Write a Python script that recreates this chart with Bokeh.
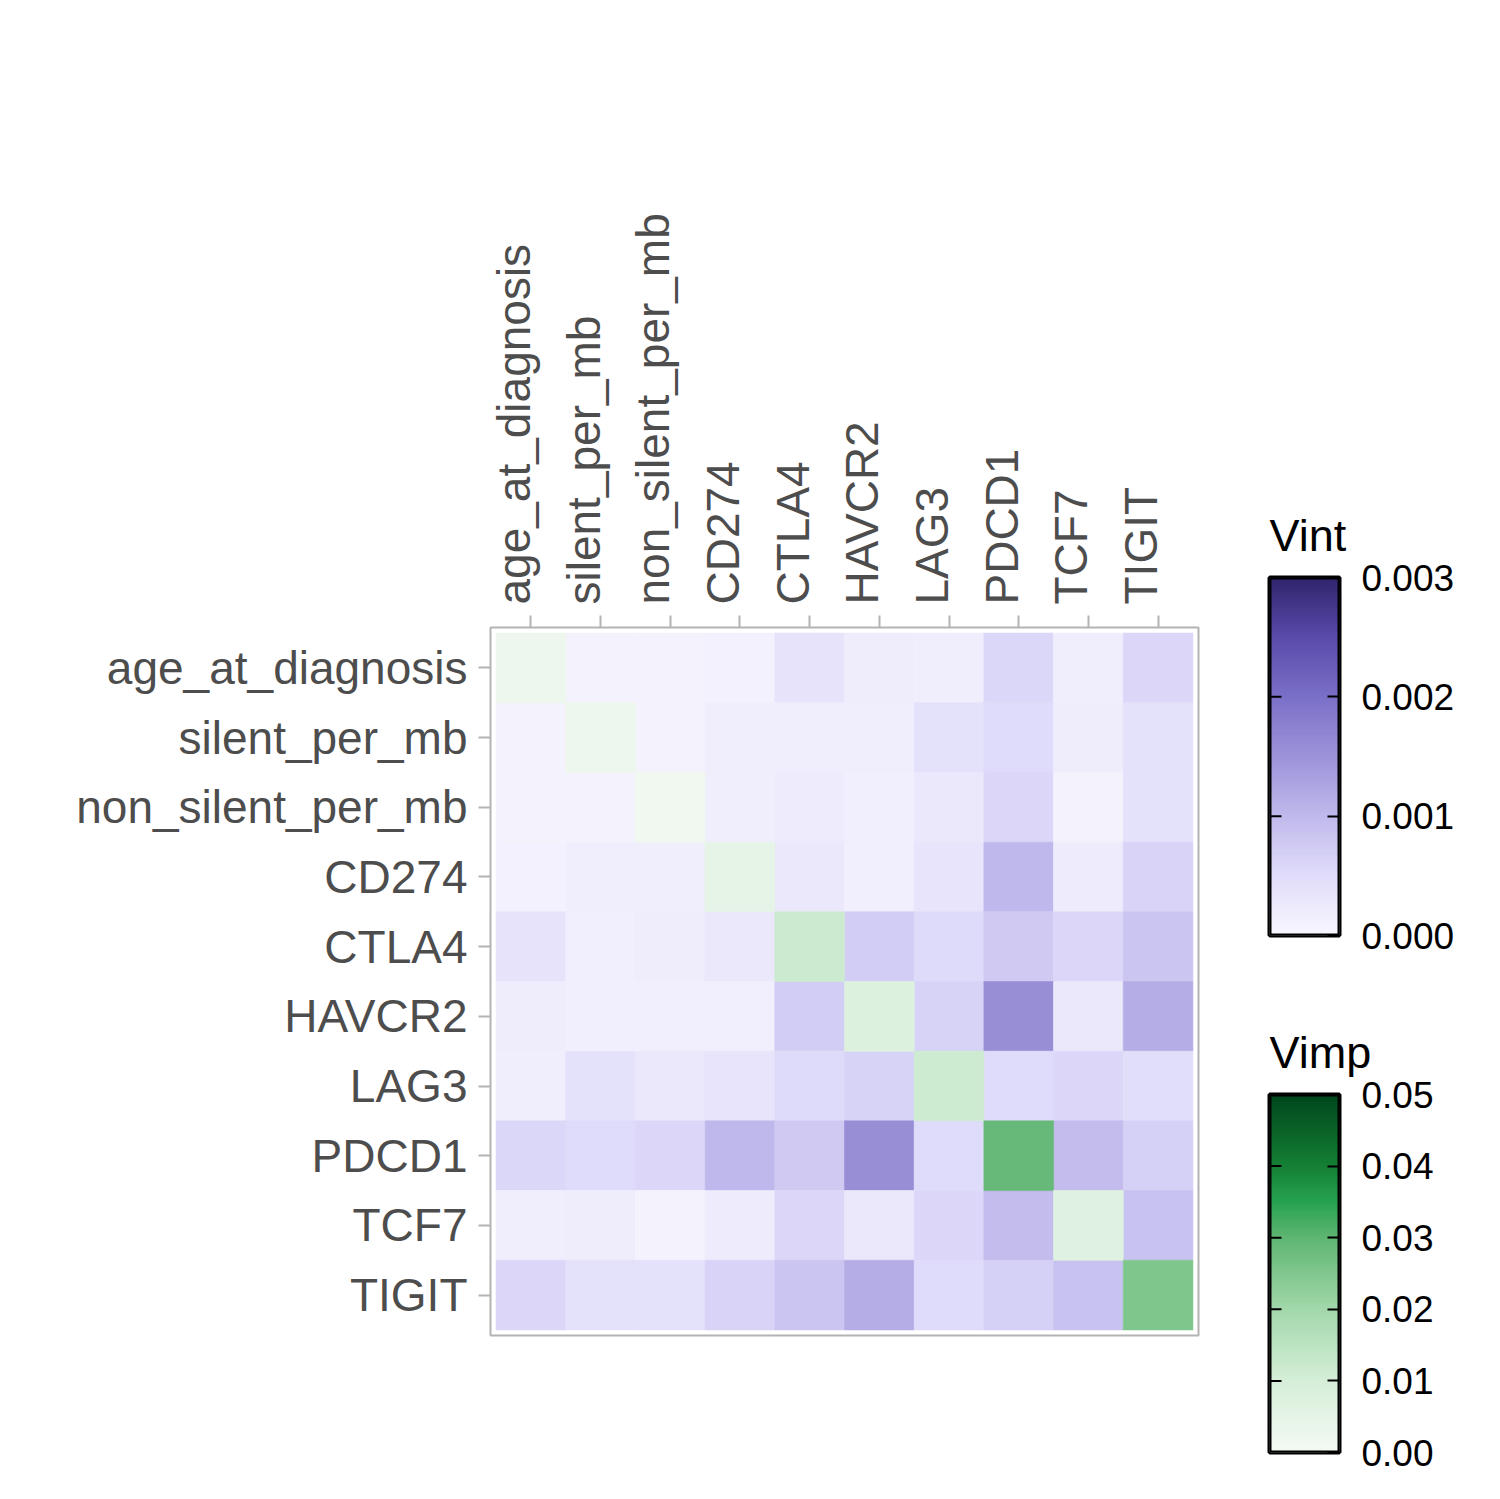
import numpy as np
from bokeh.plotting import figure
from bokeh.models import (ColumnDataSource, LinearColorMapper, FixedTicker,
                          PrintfTickFormatter, Range1d)
from bokeh.transform import linear_cmap
from bokeh.layouts import row, column
from bokeh.embed import file_html
from bokeh.resources import INLINE

# ---------------- data ----------------
variables = ["age_at_diagnosis", "silent_per_mb", "non_silent_per_mb", "CD274",
             "CTLA4", "HAVCR2", "LAG3", "PDCD1", "TCF7", "TIGIT"]

# pairwise interaction importance (Vint), units of 1e-4, diagonal unused (None)
vint_age_at_diagnosis  = [None, 0.83, 0.83, 1.25, 3.75, 1.90, 1.67, 5.78, 1.67, 5.63]
vint_silent_per_mb     = [0.83, None, 0.83, 1.67, 1.67, 1.67, 4.17, 5.16, 1.90, 4.17]
vint_non_silent_per_mb = [0.83, 0.83, None, 1.67, 2.08, 1.46, 2.71, 5.63, 0.83, 4.17]
vint_CD274             = [1.25, 1.67, 1.67, None, 2.71, 1.46, 3.60, 10.1, 2.10, 6.10]
vint_CTLA4             = [3.75, 1.46, 1.90, 2.71, None, 7.20, 5.30, 7.50, 5.63, 8.30]
vint_HAVCR2            = [1.90, 1.46, 1.46, 1.46, 7.20, None, 6.40, 15.8, 2.71, 11.5]
vint_LAG3              = [1.67, 4.17, 2.71, 3.60, 5.30, 6.40, None, 5.16, 5.63, 4.80]
vint_PDCD1             = [5.78, 5.16, 5.63, 10.1, 7.50, 15.8, 5.16, None, 9.50, 6.70]
vint_TCF7              = [1.67, 1.90, 0.83, 2.30, 5.63, 2.71, 5.63, 9.50, None, 8.75]
vint_TIGIT             = [5.63, 4.17, 4.17, 6.10, 8.30, 11.5, 5.16, 6.70, 8.75, None]

# single-variable importance (Vimp), diagonal
vimp = [0.0022, 0.0022, 0.0016, 0.0047, 0.0120, 0.0075, 0.0116, 0.0290, 0.0069, 0.0253]

vint_ticks = [0.000, 0.001, 0.002, 0.003]
vimp_ticks = [0.00, 0.01, 0.02, 0.03, 0.04, 0.05]

vint_rows = [vint_age_at_diagnosis, vint_silent_per_mb, vint_non_silent_per_mb,
             vint_CD274, vint_CTLA4, vint_HAVCR2, vint_LAG3, vint_PDCD1,
             vint_TCF7, vint_TIGIT]

# ---------------- palettes ----------------
def ramp(stops, n=256):
    vals = np.array([s[0] for s in stops], float)
    cols = np.array([[int(c[i:i + 2], 16) for i in (1, 3, 5)] for _, c in stops], float)
    out = []
    for tv in np.linspace(vals[0], vals[-1], n):
        rgb = [int(round(np.interp(tv, vals, cols[:, k]))) for k in range(3)]
        out.append("#%02x%02x%02x" % tuple(rgb))
    return out

purples = ramp([(0.0000, "#f8f7fe"), (0.0005, "#e0dcfa"), (0.0010, "#c0b9ec"),
                (0.0015, "#9c93d9"), (0.0020, "#7b70c8"), (0.0025, "#5a4bab"),
                (0.0030, "#30256e")])
greens = ramp([(0.00, "#f5faf4"), (0.01, "#d5eed8"), (0.02, "#a2d8aa"),
               (0.03, "#5fb673"), (0.035, "#27a350"), (0.04, "#158035"),
               (0.05, "#00471d")])

VINT_HIGH = 0.003
VIMP_HIGH = 0.05

# ---------------- sources ----------------
n = len(variables)
xi, yi, vi = [], [], []
for i, r in enumerate(vint_rows):
    for j, v in enumerate(r):
        if v is None:
            continue
        xi.append(j + 0.5)
        yi.append(n - 1 - i + 0.5)
        vi.append(v * 1e-4)
src_int = ColumnDataSource(dict(x=xi, y=yi, v=vi))
src_imp = ColumnDataSource(dict(x=[j + 0.5 for j in range(n)],
                                y=[n - 1 - j + 0.5 for j in range(n)],
                                v=vimp))

FONT = "Liberation Sans"
GREY_TICK = "#b3b3b3"

# ---------------- main heatmap ----------------
p = figure(frame_width=708, frame_height=708,
           min_border_left=490, min_border_top=627, min_border_right=3, min_border_bottom=20,
           x_range=Range1d(-0.08, n + 0.08), y_range=Range1d(-0.08, n + 0.08),
           x_axis_location="above", output_backend="svg", toolbar_location=None)

cm_int = linear_cmap("v", purples, 0, VINT_HIGH)
cm_imp = linear_cmap("v", greens, 0, VIMP_HIGH)
p.rect(x="x", y="y", width=1, height=1, source=src_int,
       fill_color=cm_int, line_color=cm_int, line_width=0.6)
p.rect(x="x", y="y", width=1, height=1, source=src_imp,
       fill_color=cm_imp, line_color=cm_imp, line_width=0.6)

p.grid.visible = False
p.outline_line_color = GREY_TICK
p.outline_line_width = 2
p.background_fill_color = "white"

centers = [k + 0.5 for k in range(n)]
# rotated labels sit with their baseline on the tick: shift label anchors a little left,
# and draw the visible tick marks as minor ticks at the cell centres
label_shift = 0.244
xlabel_pos = [round(c - label_shift, 4) for c in centers]
p.xaxis.ticker = FixedTicker(ticks=xlabel_pos, minor_ticks=centers)
p.xaxis.major_label_overrides = {c: variables[k] for k, c in enumerate(xlabel_pos)}
p.xaxis.major_label_orientation = "vertical"
p.xaxis.major_tick_line_color = None
p.xaxis.minor_tick_line_color = GREY_TICK
p.xaxis.minor_tick_line_width = 2
p.xaxis.minor_tick_out = 12
p.xaxis.minor_tick_in = 0

p.yaxis.ticker = FixedTicker(ticks=centers)
p.yaxis.major_label_overrides = {c: variables[n - 1 - k] for k, c in enumerate(centers)}
p.yaxis.major_tick_line_color = GREY_TICK
p.yaxis.minor_tick_line_color = None

for ax in (p.xaxis, p.yaxis):
    ax.axis_line_color = None
    ax.major_tick_line_width = 2
    ax.major_tick_out = 12
    ax.major_tick_in = 0
    ax.major_label_text_font = FONT
    ax.major_label_text_font_size = "46px"
    ax.major_label_text_color = "#4d4d4d"
    ax.major_label_standoff = 11


# ---------------- colour bars ----------------
BAR_W = 70
TICK_LEN = 12

def colorbar_fig(title, palette, high, ticks, fmt, top, bottom):
    f = figure(frame_width=BAR_W, frame_height=358,
               min_border_left=68, min_border_right=140,
               min_border_top=top, min_border_bottom=bottom,
               x_range=Range1d(0, 1), y_range=Range1d(0, high),
               x_axis_location=None, y_axis_location="right",
               output_backend="svg", toolbar_location=None, title=title)
    mapper = LinearColorMapper(palette=palette, low=0, high=high)
    grad = np.linspace(0, high, 400).reshape(-1, 1)
    f.image(image=[grad], x=0, y=0, dw=1, dh=high, color_mapper=mapper)
    # inner ticks on the left edge of the bar
    inner = ticks[1:-1]
    f.segment(x0=[0] * len(inner), x1=[TICK_LEN / BAR_W] * len(inner),
              y0=inner, y1=inner, line_color="black", line_width=2)
    # inner half of the black frame (outline supplies the outer half)
    f.rect(x=0.5, y=high / 2, width=1, height=high, fill_color=None,
           line_color="black", line_width=4)
    f.grid.visible = False
    f.outline_line_color = "black"
    f.outline_line_width = 4
    f.title.text_font = FONT
    f.title.text_font_size = "45px"
    f.title.text_font_style = "normal"
    f.title.text_color = "black"
    f.title.align = "left"
    f.title.standoff = 33
    f.title.offset = 0

    ax = f.yaxis[0]
    ax.ticker = FixedTicker(ticks=ticks)
    ax.formatter = PrintfTickFormatter(format=fmt)
    ax.axis_line_color = None
    ax.major_tick_line_color = "black"
    ax.major_tick_line_width = 2
    ax.major_tick_in = TICK_LEN
    ax.major_tick_out = 0
    ax.minor_tick_line_color = None
    ax.major_label_text_font = FONT
    ax.major_label_text_color = "black"
    ax.major_label_text_font_size = "37px"
    ax.major_label_standoff = 22
    return f

f_int = colorbar_fig("Vint", purples, VINT_HIGH, vint_ticks, "%.3f", 577, 40)
f_imp = colorbar_fig("Vimp", greens, VIMP_HIGH, vimp_ticks, "%.2f", 119, 25)

layout = row(p, column(f_int, f_imp))

open("out.html", "w").write(file_html(layout, INLINE))
